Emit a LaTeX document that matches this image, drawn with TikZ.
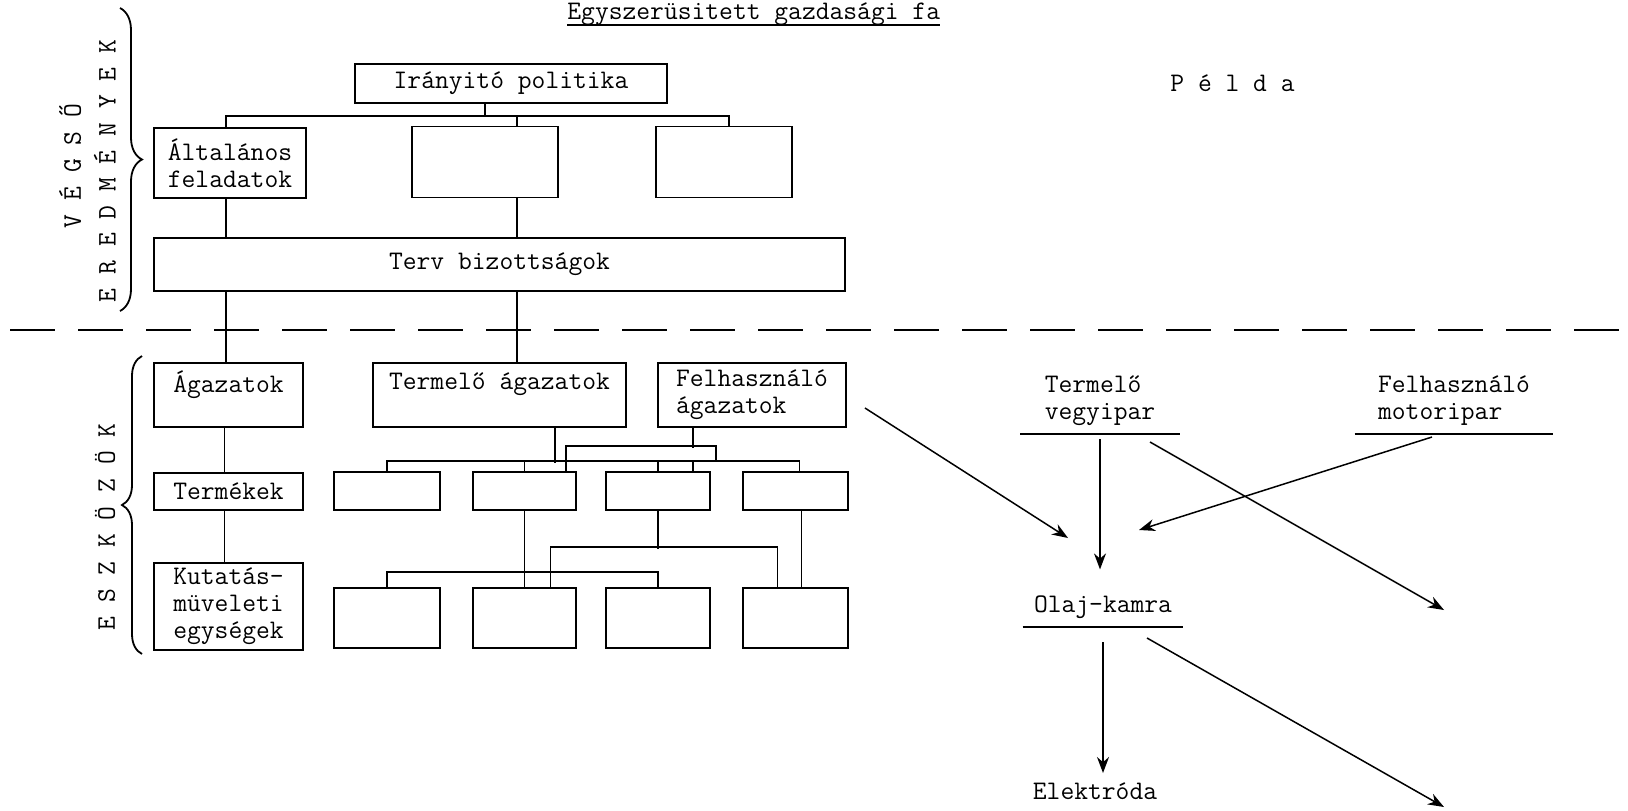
\documentclass[tikz,border=0pt]{standalone}
\usetikzlibrary{arrows.meta,decorations.pathreplacing}

\tikzset{
  doboz/.style={draw, line width=0.95pt, inner sep=0pt, align=left},
  vonal/.style={line width=0.8pt},
  nyil/.style={line width=0.75pt, -{Stealth[length=8pt,width=6pt]}},
  cimke/.style={inner xsep=0pt, inner ysep=4pt, align=left, anchor=south},
  kapocs/.style={line width=0.9pt, decorate, decoration={brace, amplitude=#1}},
}

\begin{document}
\begin{tikzpicture}[x=0.5pt, y=-0.5pt, font=\ttfamily\fontsize{13.4}{13.5}\selectfont]
    \path[use as bounding box, fill=white] (0,0) rectangle (1628,810);

    % Cim es pelda
    \node[anchor=base west, inner sep=0pt] (cim) at (567,19) {Egyszerüsitett gazdasági fa};
    \draw[vonal] ([yshift=-3pt]cim.base west) -- ([yshift=-3pt]cim.base east);
    \node[anchor=west, inner sep=0pt] (pelda) at (1170,83) {P é l d a};

    % Oldalso feliratok es kapcsok
    \node[rotate=90] (vegso) at (70,166) {V É G S Ő};
    \node[rotate=90] (ered) at (105,171) {E R E D M É N Y E K};
    \node[rotate=90] (eszk) at (105,527) {E S Z K Ö Z Ö K};
    \draw[kapocs=11pt] (120,8) -- (120,311);
    \draw[kapocs=10pt] (142,654) -- (142,356);

    % Szaggatott vonal
    \draw[line width=1pt, dash pattern=on 22.5pt off 11.5pt] (10,330) -- (1628,330);

    % Felso dobozok
    \node[doboz, minimum width=156pt, minimum height=19.5pt] (irany) at (511,83.5) {Irányitó politika};
    \node[doboz, minimum width=76pt, minimum height=35pt] (alt) at (230,163) {Általános\\feladatok};
    \node[doboz, minimum width=73pt, minimum height=35.5pt] (ures1) at (485,162) {};
    \node[doboz, minimum width=68pt, minimum height=35.5pt] (ures2) at (724,162) {};
    \node[doboz, minimum width=345.5pt, minimum height=26.5pt] (terv) at (499.5,264.5) {Terv bizottságok};

    % Bal oszlop
    \node[doboz, minimum width=74.5pt, minimum height=32pt] (agaz) at (228.5,395) {Ágazatok\\~};
    \node[doboz, minimum width=74.5pt, minimum height=18.5pt] (term) at (228.5,491.5) {Termékek};
    \node[doboz, minimum width=74.5pt, minimum height=43.5pt] (kut) at (228.5,606.5) {Kutatás-\\müveleti\\egységek};

    % Agazatok
    \node[doboz, minimum width=126.5pt, minimum height=32pt] (termag) at (499.5,395) {Termelő ágazatok\\~};
    \node[doboz, minimum width=94pt, minimum height=32pt] (felhag) at (752,395) {Felhasználó\\ágazatok};

    % Ures dobozok, ket sor
    \node[doboz, minimum width=53pt, minimum height=19pt] (b1) at (387,491) {};
    \node[doboz, minimum width=51.5pt, minimum height=19pt] (b2) at (524.5,491) {};
    \node[doboz, minimum width=52pt, minimum height=19pt] (b3) at (658,491) {};
    \node[doboz, minimum width=52.5pt, minimum height=19pt] (b4) at (795.5,491) {};
    \node[doboz, minimum width=53pt, minimum height=30pt] (c1) at (387,618) {};
    \node[doboz, minimum width=51.5pt, minimum height=30pt] (c2) at (524.5,618) {};
    \node[doboz, minimum width=52pt, minimum height=30pt] (c3) at (658,618) {};
    \node[doboz, minimum width=52.5pt, minimum height=30pt] (c4) at (795.5,618) {};

    % Kapcsolatok felul
    \draw[vonal] ([xshift=-13pt]irany.south) -- ++(0,13);
    \draw[vonal] ([xshift=-2pt]alt.north) -- ++(0,-11) -| ([xshift=2.5pt]ures2.north);
    \draw[vonal] ([xshift=16pt]ures1.north) -- ++(0,-11);
    \draw[vonal] ([xshift=-2pt]alt.south) -- ([xshift=-2pt]alt.south |- terv.north);
    \draw[vonal] ([xshift=16pt]ures1.south) -- ([xshift=16pt]ures1.south |- terv.north);
    \draw[vonal] ([xshift=-2pt]alt.south |- terv.south) -- ([xshift=-2pt]alt.south |- agaz.north);
    \draw[vonal] ([xshift=16pt]ures1.south |- terv.south) -- ([xshift=16pt]ures1.south |- termag.north);

    % Bal oszlop kapcsolatai
    \draw[vonal] ([xshift=-2pt]agaz.south) -- ([xshift=-2pt]term.north);
    \draw[vonal] ([xshift=-2pt]term.south) -- ([xshift=-2pt]kut.north);

    % Agazatok alatt
    \draw[vonal] ([xshift=27.75pt]termag.south) -- ++(0,35);
    \draw[vonal] ([xshift=-29.5pt]felhag.south) -- ++(0,20);
    \draw[vonal] ([xshift=20.75pt]b2.north) -- ++(0,-25) -| ++(150,15);
    \draw[vonal] (b1.north) -- ++(0,-10) -| ([xshift=2pt]b4.north);
    \draw[vonal] (b2.north) -- ++(0,-10);
    \draw[vonal] (b3.north) -- ++(0,-10);
    \draw[vonal] ([xshift=17.5pt]b3.north) -- ++(0,-10);

    % Masodik sor
    \draw[vonal] (b2.south) -- (c2.north);
    \draw[vonal] (c1.north) -- ++(0,-15) -| (c3.north);
    \draw[vonal] (b3.south) -- ++(0,38);
    \draw[vonal] ([xshift=13pt]c2.north) -- ++(0,-40) -| ([xshift=-9pt]c4.north);
    \draw[vonal] ([xshift=3pt]b4.south) -- ([xshift=3pt]c4.north);

    % Pelda oldal
    \node[cimke, minimum width=79.5pt] (vegy) at (1100,434) {Termelő\\vegyipar};
    \node[cimke, minimum width=99pt] (motor) at (1454,434) {Felhasználó\\motoripar};
    \node[cimke, minimum width=80pt] (olaj) at (1103,627) {Olaj-kamra};
    \node[anchor=north, inner sep=0pt] (elek) at (1095,782) {Elektróda};
    \draw[vonal] (vegy.south west) -- (vegy.south east);
    \draw[vonal] (motor.south west) -- (motor.south east);
    \draw[vonal] (olaj.south west) -- (olaj.south east);

    \coordinate (felhveg) at (1068,538);
    \coordinate (vegyveg) at (1444,610);
    \coordinate (motorveg) at (1139,530);
    \coordinate (olajveg) at (1444,807);

    \draw[nyil] ([xshift=9pt,yshift=-6.5pt]felhag.east) -- (felhveg);
    \draw[nyil, shorten >=9pt] ([yshift=-2.5pt]vegy.south) -- (vegy.south |- olaj.north);
    \draw[nyil] ([xshift=25pt,yshift=-4pt]vegy.south) -- (vegyveg);
    \draw[nyil] ([xshift=-11pt,yshift=-1.5pt]motor.south) -- (motorveg);
    \draw[nyil, shorten >=4.5pt] ([yshift=-7.5pt]olaj.south) -- (olaj.south |- elek.north);
    \draw[nyil] ([xshift=22pt,yshift=-5.5pt]olaj.south) -- (olajveg);

\end{tikzpicture}
\end{document}
